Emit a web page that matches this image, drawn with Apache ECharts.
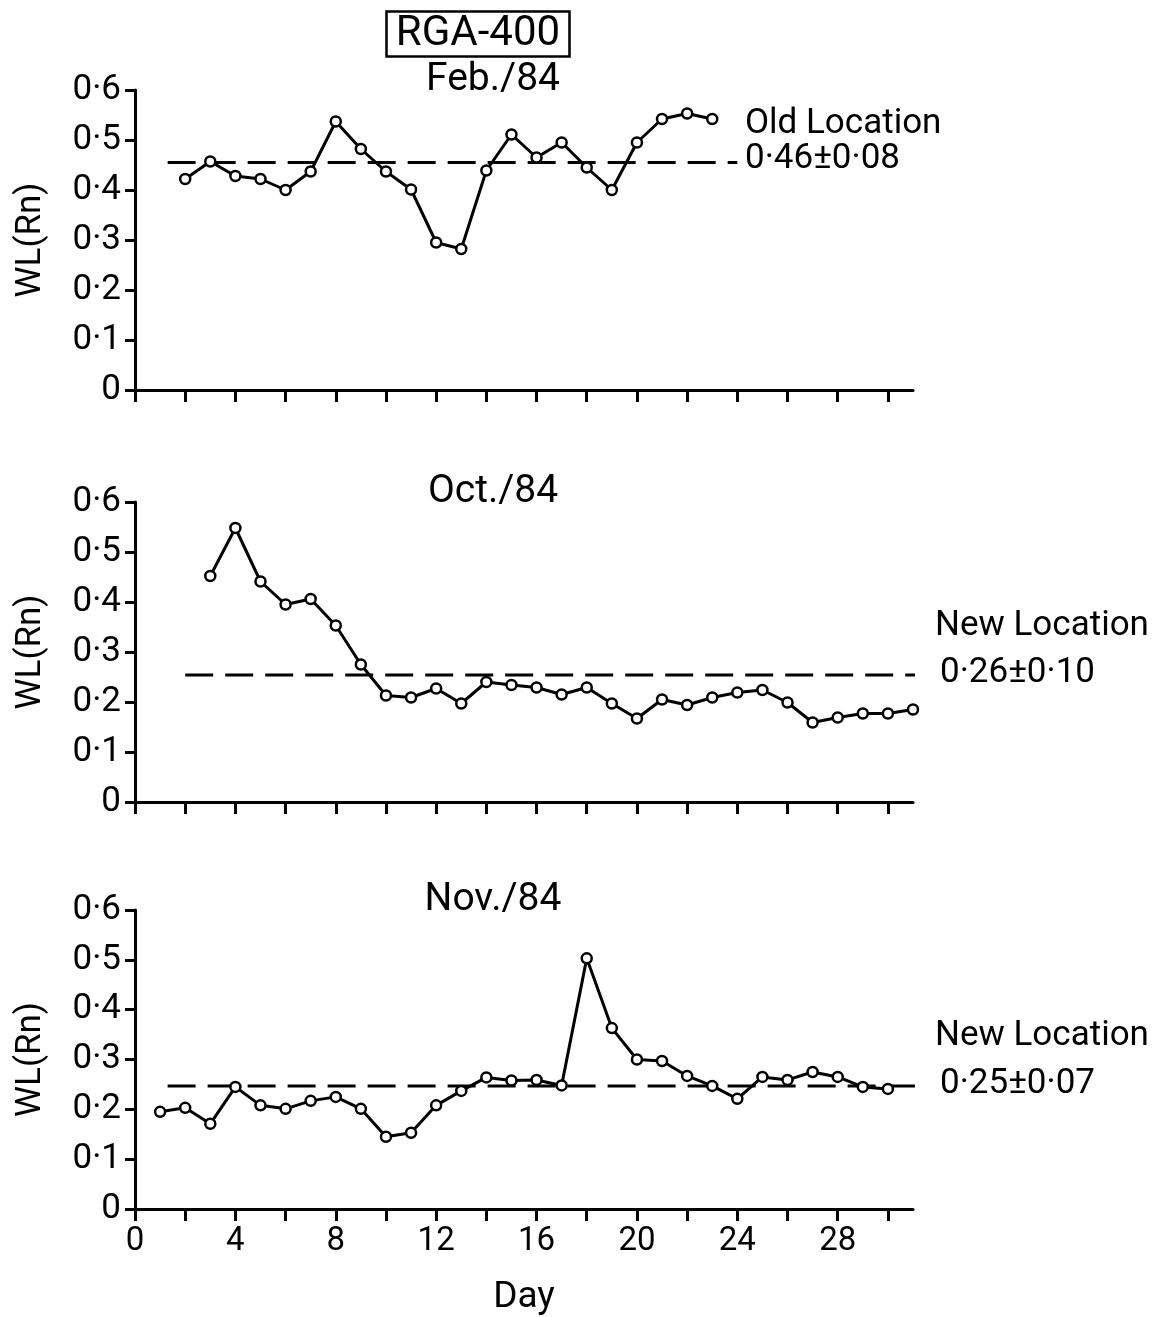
<!DOCTYPE html>
<html><head><meta charset="utf-8">
<script src="https://cdn.jsdelivr.net/npm/echarts@6/dist/echarts.min.js"></script>
<style>html,body{margin:0;padding:0;background:#fff}#c{width:1173px;height:1317px}</style>
</head><body><div id="c"></div>
<script>
const figureLabel = 'RGA-400';
const panelTitles = ['Feb./84', 'Oct./84', 'Nov./84'];
const yAxisName = 'WL(Rn)';
const xAxisName = 'Day';
const yTickValues = [0, 0.1, 0.2, 0.3, 0.4, 0.5, 0.6];
const yTickLabels = ['0', '0·1', '0·2', '0·3', '0·4', '0·5', '0·6'];
const xTickValues = [0, 2, 4, 6, 8, 10, 12, 14, 16, 18, 20, 22, 24, 26, 28, 30];
const xLabelValues = [0, 4, 8, 12, 16, 20, 24, 28];

const febDays = [2,3,4,5,6,7,8,9,10,11,12,13,14,15,16,17,18,19,20,21,22,23];
const febValues = [0.422,0.457,0.428,0.422,0.400,0.437,0.537,0.482,0.437,0.401,0.295,0.282,0.439,0.511,0.465,0.495,0.445,0.400,0.495,0.542,0.553,0.542];
const octDays = [3,4,5,6,7,8,9,10,11,12,13,14,15,16,17,18,19,20,21,22,23,24,25,26,27,28,29,30,31];
const octValues = [0.452,0.548,0.441,0.395,0.406,0.353,0.275,0.213,0.209,0.227,0.197,0.240,0.234,0.229,0.215,0.229,0.197,0.167,0.205,0.194,0.209,0.219,0.224,0.199,0.159,0.169,0.177,0.177,0.185];
const novDays = [1,2,3,4,5,6,7,8,9,10,11,12,13,14,15,16,17,18,19,20,21,22,23,24,25,26,27,28,29,30];
const novValues = [0.195,0.203,0.171,0.245,0.208,0.201,0.217,0.225,0.201,0.145,0.153,0.208,0.237,0.264,0.258,0.259,0.248,0.503,0.363,0.300,0.297,0.267,0.247,0.221,0.265,0.259,0.275,0.265,0.245,0.241];

const meanValues = [0.455, 0.254, 0.247];
const meanSpans = [[1.3, 24], [2, 31.3], [1.3, 31.1]];
const locationLabels = ['Old Location', 'New Location', 'New Location'];
const meanLabels = ['0·46±0·08', '0·26±0·10', '0·25±0·07'];

const FONT = 'Roboto';
const days = [febDays, octDays, novDays];
const vals = [febValues, octValues, novValues];
const gridTops = [90, 502, 910];
const gridH = 300;

const grids = [], xAxes = [], yAxes = [], series = [];
for (let i = 0; i < 3; i++) {
  grids.push({left: 135, top: gridTops[i], width: 778, height: gridH, containLabel: false});
  xAxes.push({
    type: 'value', gridIndex: i, min: 0, max: 31, interval: 2,
    axisLine: {onZero: false, lineStyle: {color: '#000', width: 3}},
    axisTick: {show: true, length: 12, lineStyle: {color: '#000', width: 3}, customValues: xTickValues},
    axisLabel: {show: i === 2, customValues: xLabelValues, color: '#000', fontSize: 33, fontFamily: FONT, margin: 16},
    splitLine: {show: false},
    name: i === 2 ? xAxisName : '', nameLocation: 'middle', nameGap: 70,
    nameTextStyle: {color: '#000', fontSize: 37, fontFamily: FONT}
  });
  yAxes.push({
    type: 'value', gridIndex: i, min: 0, max: 0.6, interval: 0.1,
    axisLine: {show: true, lineStyle: {color: '#000', width: 3}},
    axisTick: {show: true, length: 10, lineStyle: {color: '#000', width: 3}},
    axisLabel: {color: '#000', fontSize: 35, fontFamily: FONT, margin: 14,
      formatter: v => yTickLabels[Math.round(v * 10)]},
    splitLine: {show: false},
    name: yAxisName, nameLocation: 'middle', nameRotate: 90, nameGap: 86,
    nameTextStyle: {color: '#000', fontSize: 35, fontFamily: FONT}
  });
  series.push({
    type: 'line', xAxisIndex: i, yAxisIndex: i,
    data: days[i].map((d, k) => [d, vals[i][k]]),
    symbol: 'circle', symbolSize: 10,
    lineStyle: {color: '#000', width: 3},
    itemStyle: {color: '#fff', borderColor: '#000', borderWidth: 2.5},
    z: 3, animation: false
  });
  series.push({
    type: 'line', xAxisIndex: i, yAxisIndex: i,
    data: meanSpans[i].map(x => [x, meanValues[i]]),
    symbol: 'none',
    lineStyle: {color: '#000', width: 3, type: [28, 12]},
    z: 2, animation: false
  });
}

const titles = panelTitles.map((t, i) => ({
  text: t, left: 488, top: [56, 468, 876][i], textAlign: 'center',
  textStyle: {color: '#000', fontSize: 39, fontWeight: 'normal', fontFamily: FONT}
}));
titles.push({
  text: figureLabel, left: 468, top: 11, textAlign: 'center',
  padding: [2, 10, 2, 10], borderColor: '#000', borderWidth: 2.5,
  textStyle: {color: '#000', fontSize: 42, fontWeight: 'normal', fontFamily: FONT}
});

const labelPos = [[745, 128, 745, 163], [935, 630, 940, 677], [935, 1040, 940, 1088]];
const graphics = [];
for (let i = 0; i < 3; i++) {
  const p = labelPos[i];
  graphics.push({type: 'text', left: p[0], top: p[1] - 21, style: {text: locationLabels[i], fill: '#000', font: '35px ' + FONT}});
  graphics.push({type: 'text', left: p[2], top: p[3] - 21, style: {text: meanLabels[i], fill: '#000', font: '35px ' + FONT}});
}

const chart = echarts.init(document.getElementById('c'), null, {renderer: 'canvas'});
chart.setOption({
  backgroundColor: '#fff', animation: false,
  title: titles, grid: grids, xAxis: xAxes, yAxis: yAxes, series: series, graphic: graphics
});
</script></body></html>
